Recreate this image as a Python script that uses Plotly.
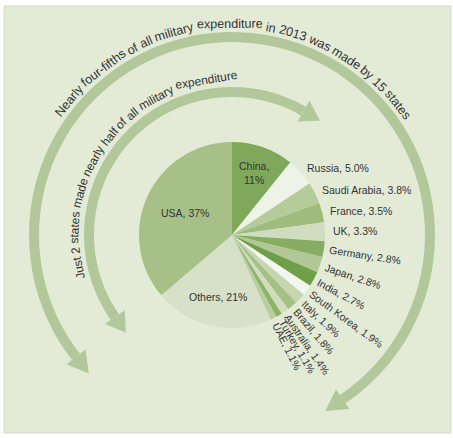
import math
import plotly.graph_objects as go

# ---------------- data ----------------
countries = ["China", "Russia", "Saudi Arabia", "France", "UK", "Germany", "Japan",
             "India", "South Korea", "Italy", "Brazil", "Australia", "Turkey", "UAE",
             "Others", "USA"]
shares = [11, 5.0, 3.8, 3.5, 3.3, 2.8, 2.8, 2.7, 1.9, 1.9, 1.8, 1.4, 1.1, 1.1, 21, 37]
slice_colors = ["#7fa85b", "#eef3e7", "#b6cb9a", "#9fbc7d", "#d0dcc0", "#87ad62",
                "#b1c796", "#6f9f49", "#f3f6ee", "#c6d6af", "#a5c084", "#d0dcbf",
                "#8db369", "#b9cd9e", "#d6e1c8", "#a7c087"]
outer_caption = "Nearly four-fifths of all military expenditure in 2013 was made by 15 states"
inner_caption = "Just 2 states made nearly half of all military expenditure"

# ---------------- geometry helpers ----------------
W, H = 453, 438
CX, CY, R = 232, 235, 93
TEXT_COLOR = "#333333"
FONT = "Liberation Sans, Arial, sans-serif"
ARROW_COLOR = "#b3c89a"

def px(x):
    return x / W

def py(y):
    return 1 - y / H

def polar(r, deg):
    t = math.radians(deg)
    return CX + r * math.sin(t), CY - r * math.cos(t)

CW = {' ': 278, ',': 278, '.': 278, '-': 333, '%': 889,
      'a': 556, 'b': 556, 'c': 500, 'd': 556, 'e': 556, 'f': 278, 'g': 556, 'h': 556,
      'i': 222, 'j': 222, 'k': 500, 'l': 222, 'm': 833, 'n': 556, 'o': 556, 'p': 556,
      'q': 556, 'r': 333, 's': 500, 't': 278, 'u': 556, 'v': 500, 'w': 722, 'x': 500,
      'y': 500, 'z': 500, 'A': 667, 'B': 667, 'C': 722, 'D': 722, 'E': 667, 'F': 611,
      'G': 778, 'H': 722, 'I': 278, 'J': 500, 'K': 667, 'L': 556, 'M': 833, 'N': 722,
      'O': 778, 'P': 667, 'Q': 778, 'R': 722, 'S': 667, 'T': 611, 'U': 722, 'V': 667,
      'W': 944, 'X': 667, 'Y': 667, 'Z': 611}

def text_units(s):
    return sum(CW.get(c, 556) for c in s)

def fmt_pct(v):
    return f"{v:.1f}%" if v < 10 else f"{v:.0f}%"

# ---------------- figure ----------------
fig = go.Figure(go.Pie(
    labels=countries, values=shares, sort=False, direction="clockwise", rotation=0,
    marker=dict(colors=slice_colors, line=dict(width=0)),
    textinfo="none", hoverinfo="label+value", showlegend=False,
    domain=dict(x=[px(CX - R), px(CX + R)], y=[py(CY + R), py(CY - R)]),
))

annotations = []
LABEL_SIZE = 10.5

# slice labels
total = sum(shares)
cum = 0.0
inside_r = {"China": 66, "USA": 52, "Others": 64}
for name, v in zip(countries, shares):
    a0 = cum / total * 360
    cum += v
    a1 = cum / total * 360
    mid = (a0 + a1) / 2
    label = f"{name}, {fmt_pct(v)}"
    if name in inside_r:
        if name == "China":
            label = f"{name},<br>{fmt_pct(v)}"
        x, y = polar(inside_r[name], mid)
        annotations.append(dict(x=px(x), y=py(y), xref="paper", yref="paper", text=label,
                                showarrow=False, xanchor="center", yanchor="middle",
                                font=dict(family=FONT, size=LABEL_SIZE, color=TEXT_COLOR)))
    elif mid <= 92:
        x, y = polar(R + 6, mid)
        annotations.append(dict(x=px(x), y=py(y), xref="paper", yref="paper", text=label,
                                showarrow=False, xanchor="left", yanchor="middle",
                                font=dict(family=FONT, size=LABEL_SIZE, color=TEXT_COLOR)))
    else:
        w = text_units(label) * LABEL_SIZE / 1000
        x, y = polar(R + 5 + w / 2, mid)
        annotations.append(dict(x=px(x), y=py(y), xref="paper", yref="paper", text=label,
                                showarrow=False, xanchor="center", yanchor="middle",
                                textangle=mid - 90,
                                font=dict(family=FONT, size=LABEL_SIZE, color=TEXT_COLOR)))

# curved captions (word by word along an arc)
def curved(text, r, a_start, a_end):
    words = text.split(" ")
    units = [text_units(wd) for wd in words]
    tot = sum(units) + CW[' '] * (len(words) - 1)
    arc = r * math.radians(a_end - a_start)
    size = arc / tot * 1000
    pos = 0.0
    for wd, u in zip(words, units):
        ww = u * size / 1000
        s = pos + ww / 2
        ang = a_start + math.degrees(s / r)
        x, y = polar(r, ang)
        annotations.append(dict(x=px(x), y=py(y), xref="paper", yref="paper", text=wd,
                                showarrow=False, xanchor="center", yanchor="middle",
                                textangle=ang,
                                font=dict(family=FONT, size=size, color=TEXT_COLOR)))
        pos += ww + CW[' '] * size / 1000

curved(outer_caption, 211, -55.5, 56.5)
curved(inner_caption, 157, -106, 2)

# arc arrows
def arc_arrow(r, width, t1, t2, head_len, head_half):
    n = 80
    pts = []
    for i in range(n + 1):
        t = t1 + (t2 - t1) * i / n
        pts.append(polar(r + width / 2, t))
    for i in range(n, -1, -1):
        t = t1 + (t2 - t1) * i / n
        pts.append(polar(r - width / 2, t))
    body = "M " + " L ".join(f"{px(x):.5f},{py(y):.5f}" for x, y in pts) + " Z"
    heads = []
    for t, sign in ((t2, 1), (t1, -1)):
        bx, by = polar(r, t)
        rad = math.radians(t)
        ux, uy = math.sin(rad), -math.cos(rad)
        tx, ty = sign * math.cos(rad), sign * math.sin(rad)
        c1 = (bx + head_half * ux, by + head_half * uy)
        c2 = (bx - head_half * ux, by - head_half * uy)
        tip = (bx + head_len * tx, by + head_len * ty)
        heads.append("M " + " L ".join(f"{px(x):.5f},{py(y):.5f}" for x, y in (c1, tip, c2)) + " Z")
    return [body] + heads

shapes = [dict(type="rect", xref="paper", yref="paper", x0=px(4), x1=px(451), y0=py(433), y1=py(6),
               fillcolor="#e3ebd7", line=dict(color="#d2dbc5", width=1), layer="below")]
for path in arc_arrow(198, 10, -128, 146, 21, 12) + arc_arrow(143, 10, -125, 30, 19, 12):
    shapes.append(dict(type="path", path=path, xref="paper", yref="paper",
                       fillcolor=ARROW_COLOR, line=dict(width=0), layer="below"))

fig.update_layout(
    width=W, height=H, margin=dict(l=0, r=0, t=0, b=0),
    paper_bgcolor="white", plot_bgcolor="white",
    shapes=shapes, annotations=annotations,
    xaxis=dict(visible=False), yaxis=dict(visible=False),
)

fig.write_html("out.html", config={"displayModeBar": False},
               post_script="document.body.style.margin='0';")
